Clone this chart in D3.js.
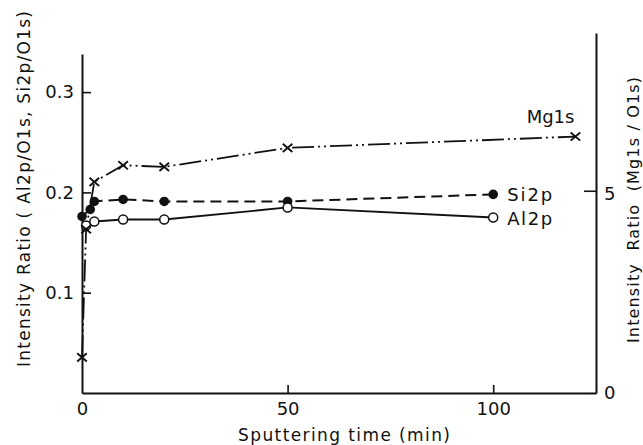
<!DOCTYPE html>
<html><head><meta charset="utf-8">
<script src="https://cdn.jsdelivr.net/npm/d3@7/dist/d3.min.js"></script>
<style>
html,body{margin:0;padding:0;background:#fff;}
text{font-family:"DejaVu Sans",sans-serif;fill:#111;}
</style></head>
<body>
<svg id="chart" width="643" height="445"></svg>
<script>
// Data (time in minutes)
const si2pTime = [0, 2, 3, 10, 20, 50, 100];
const si2pValue = [0.176, 0.183, 0.191, 0.193, 0.191, 0.191, 0.198];
const al2pTime = [1, 3, 10, 20, 50, 100];
const al2pValue = [0.167, 0.171, 0.173, 0.173, 0.185, 0.175];
const mg1sTime = [0, 1, 3, 10, 20, 50, 120];
const mg1sValue = [0.88, 4.05, 5.22, 5.63, 5.59, 6.06, 6.34];
const xTicks = [0, 50, 100];
const leftTicks = [0.1, 0.2, 0.3];
const rightTicks = [0, 5];
const seriesLabels = ["Mg1s", "Si2p", "Al2p"];

const svg = d3.select("#chart");
const x = d3.scaleLinear().domain([0, 125]).range([82, 596]);
const yL = d3.scaleLinear().domain([0, 0.338]).range([393, 54]);
const yR = d3.scaleLinear().domain([0, 8.9]).range([393, 33]);

const axisStyle = g => {
  g.selectAll("path.domain").attr("stroke", "#111").attr("stroke-width", 2);
  g.selectAll(".tick line").attr("stroke", "#111").attr("stroke-width", 1.6);
  g.selectAll(".tick text").style("font-size", "18px").attr("fill", "#111");
};

// Bottom axis
svg.append("g").attr("transform", "translate(0,393)")
  .call(d3.axisBottom(x).tickValues(xTicks).tickFormat(d3.format("d"))
    .tickSizeInner(-8).tickSizeOuter(0).tickPadding(9))
  .call(axisStyle)
  .call(g => g.selectAll(".tick").filter(d => d === 0).select("line").remove());

// Left axis
svg.append("g").attr("transform", "translate(82,0)")
  .call(d3.axisLeft(yL).tickValues(leftTicks).tickFormat(d3.format(".1f"))
    .tickSizeInner(-9).tickSizeOuter(0).tickPadding(8))
  .call(axisStyle);

// Right axis
svg.append("g").attr("transform", "translate(596,0)")
  .call(d3.axisRight(yR).tickValues(rightTicks).tickFormat(d3.format("d"))
    .tickSizeInner(-12).tickSizeOuter(0).tickPadding(8))
  .call(axisStyle)
  .call(g => g.selectAll(".tick").filter(d => d === 0).select("line").remove())
  .call(g => g.selectAll(".tick").filter(d => d === 5).select("text").attr("dy", "0.5em"));

// Lines
const mkLine = (ys) => d3.line().x(d => x(d[0])).y(d => ys(d[1]));
const mgData = d3.zip(mg1sTime, mg1sValue);
const siData = d3.zip(si2pTime, si2pValue);
const alData = d3.zip(al2pTime, al2pValue);

svg.append("path").datum(mgData).attr("d", mkLine(yR))
  .attr("fill", "none").attr("stroke", "#111").attr("stroke-width", 1.8)
  .attr("stroke-dasharray", "22,4,2,4,2,4");
svg.append("path").datum(siData).attr("d", mkLine(yL))
  .attr("fill", "none").attr("stroke", "#111").attr("stroke-width", 2)
  .attr("stroke-dasharray", "11,6");
svg.append("path").datum(alData).attr("d", mkLine(yL))
  .attr("fill", "none").attr("stroke", "#111").attr("stroke-width", 1.8);

// Markers
svg.append("g").selectAll("circle").data(siData).join("circle")
  .attr("cx", d => x(d[0])).attr("cy", d => yL(d[1])).attr("r", 4.8)
  .attr("fill", "#111");
svg.append("g").selectAll("circle").data(alData).join("circle")
  .attr("cx", d => x(d[0])).attr("cy", d => yL(d[1])).attr("r", 4.5)
  .attr("fill", "#fff").attr("stroke", "#111").attr("stroke-width", 1.5);
const cs = 4.8;
svg.append("g").selectAll("path").data(mgData).join("path")
  .attr("d", d => {
    const cx = x(d[0]), cy = yR(d[1]);
    return `M${cx-cs},${cy-cs*0.85}L${cx+cs},${cy+cs*0.85}M${cx-cs},${cy+cs*0.85}L${cx+cs},${cy-cs*0.85}`;
  })
  .attr("stroke", "#111").attr("stroke-width", 1.9).attr("fill", "none");

// Series labels
const lastMg = mgData[mgData.length - 1];
svg.append("text").text(seriesLabels[0])
  .attr("x", x(lastMg[0]) - 1).attr("y", yR(lastMg[1]) - 14)
  .attr("text-anchor", "end").style("font-size", "18px");
const lastSi = siData[siData.length - 1];
svg.append("text").text(seriesLabels[1])
  .attr("x", x(lastSi[0]) + 14).attr("y", yL(lastSi[1]) + 6.5)
  .attr("textLength", 45).attr("lengthAdjust", "spacing")
  .style("font-size", "18px");
const lastAl = alData[alData.length - 1];
svg.append("text").text(seriesLabels[2])
  .attr("x", x(lastAl[0]) + 14).attr("y", yL(lastAl[1]) + 8)
  .attr("textLength", 45).attr("lengthAdjust", "spacing")
  .style("font-size", "18px");

// Axis titles
svg.append("text").text("Sputtering time (min)")
  .attr("x", 344).attr("y", 441).attr("text-anchor", "middle")
  .attr("textLength", 212).attr("lengthAdjust", "spacing")
  .style("font-size", "17px");
svg.append("text").text("Intensity Ratio ( Al2p/O1s, Si2p/O1s)")
  .attr("transform", "translate(30,189) rotate(-90)").attr("text-anchor", "middle")
  .attr("textLength", 356).attr("lengthAdjust", "spacing")
  .style("font-size", "17px");
svg.append("text").text("Intensity  Ratio  (Mg1s / O1s)")
  .attr("transform", "translate(639,210) rotate(-90)").attr("text-anchor", "middle")
  .attr("textLength", 266).attr("lengthAdjust", "spacing")
  .style("font-size", "16px").style("white-space", "pre");
</script>
</body></html>
